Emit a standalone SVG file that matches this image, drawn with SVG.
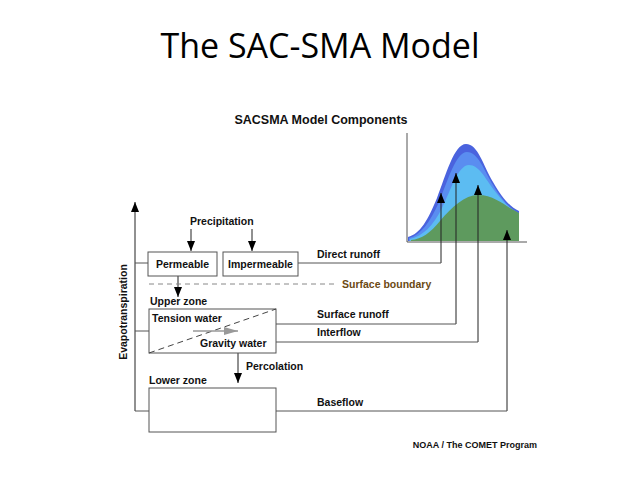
<svg xmlns="http://www.w3.org/2000/svg" width="640" height="480" viewBox="0 0 640 480">
<defs>
<marker id="ah" markerWidth="10" markerHeight="10" viewBox="0 0 10 10" refX="10" refY="5" orient="auto" markerUnits="userSpaceOnUse">
<path d="M0,1 L10,5 L0,9 Z" fill="#000"/>
</marker>
<marker id="ahg" markerWidth="14" markerHeight="10" viewBox="0 0 14 10" refX="14" refY="5" orient="auto" markerUnits="userSpaceOnUse">
<path d="M0,1 L14,5 L0,9 Z" fill="#999"/>
</marker>
</defs>
<style>
.t{font-family:"Liberation Sans",Arial,sans-serif;font-weight:bold;font-size:10.5px;fill:#111}
.box{fill:#fff;stroke:#555;stroke-width:1}
.ln{fill:none;stroke:#555;stroke-width:1}
.ar{fill:none;stroke:#222;stroke-width:1;marker-end:url(#ah)}
</style>
<rect width="640" height="480" fill="#fff"/>
<text x="320" y="58" text-anchor="middle" font-family="'Open Sans',Calibri,sans-serif" font-size="34" fill="#000">The SAC-SMA Model</text>
<text x="321" y="124" text-anchor="middle" class="t" style="font-size:12.5px">SACSMA Model Components</text>

<g id="chart">
<path d="M408,237 C420,234 428,220 437,198 C446,175 454,144 466,144 C478,144 483,165 493,182 C502,198 510,207 519,211 L519,241 L408,241 Z" fill="#4a63de"/>
<path d="M409,238 C421,235 430,222 439,202 C448,180 456,152 467,152 C478,152 484,170 493,185 C502,200 510,209 519,213 L519,241 L409,241 Z" fill="#5a8df0"/>
<path d="M410,239 C423,236 433,226 442,208 C451,190 458,165 469,165 C479,165 485,178 494,190 C503,202 511,210 519,214 L519,241 L410,241 Z" fill="#5cbcf2"/>
<path d="M411,240 C422,239 430,233 440,221 C452,207 465,195 478,195 C492,195 502,203 510,208 L519,213 L519,241 L411,241 Z" fill="#5e9a5e"/>
<path d="M407,133 L407,242 L527,242" class="ln"/>
</g>

<g id="connectors">
<path d="M441,263 L441,193" class="ar"/>
<path d="M456,324 L456,173" class="ar"/>
<path d="M478,342 L478,185" class="ar"/>
<path d="M507,411 L507,230" class="ar"/>
<path d="M298,263 L441,263" class="ln"/>
<path d="M276,324 L456,324" class="ln"/>
<path d="M276,342 L478,342" class="ln"/>
<path d="M276,411 L507,411" class="ln"/>
<path d="M135,411 L135,202" class="ar"/>
<path d="M135,263 L148,263" class="ln"/>
<path d="M135,331 L149,331" class="ln"/>
<path d="M135,411 L149,411" class="ln"/>
<path d="M191,229 L191,251" class="ar"/>
<path d="M252,229 L252,251" class="ar"/>
<path d="M178,276 L178,297" class="ar"/>
<path d="M238,353 L238,383" class="ar"/>
<path d="M149,284 L337,284" fill="none" stroke="#888" stroke-width="1" stroke-dasharray="5,4"/>
</g>

<text x="190" y="225" class="t">Precipitation</text>
<g id="permeable"><rect x="148" y="252" width="69" height="24" class="box"/><text x="182.5" y="268" text-anchor="middle" class="t">Permeable</text></g>
<g id="impermeable"><rect x="223" y="252" width="75" height="24" class="box"/><text x="260.5" y="268" text-anchor="middle" class="t">Impermeable</text></g>
<text x="317" y="258" class="t">Direct runoff</text>
<text x="342" y="288" class="t" style="fill:#6b4a14">Surface boundary</text>
<text x="150" y="305" class="t">Upper zone</text>
<g id="upper">
<rect x="149" y="309" width="127" height="44" class="box"/>
<path d="M149,353 L276,309" fill="none" stroke="#444" stroke-width="1" stroke-dasharray="6,4"/>
<path d="M193,331 L238,331" fill="none" stroke="#999" stroke-width="1.5" marker-end="url(#ahg)"/>
<text x="152" y="322" class="t">Tension water</text>
<text x="200" y="347" class="t">Gravity water</text>
</g>
<text x="317" y="318" class="t">Surface runoff</text>
<text x="317" y="336" class="t">Interflow</text>
<text x="246" y="370" class="t">Percolation</text>
<text x="149" y="384" class="t">Lower zone</text>
<g id="lower"><rect x="149" y="388" width="127" height="44" class="box"/></g>
<text x="317" y="406" class="t">Baseflow</text>
<text transform="translate(127,312) rotate(-90)" text-anchor="middle" class="t">Evapotranspiration</text>
<text x="537" y="448" text-anchor="end" class="t" style="font-size:9px">NOAA / The COMET Program</text>
</svg>
